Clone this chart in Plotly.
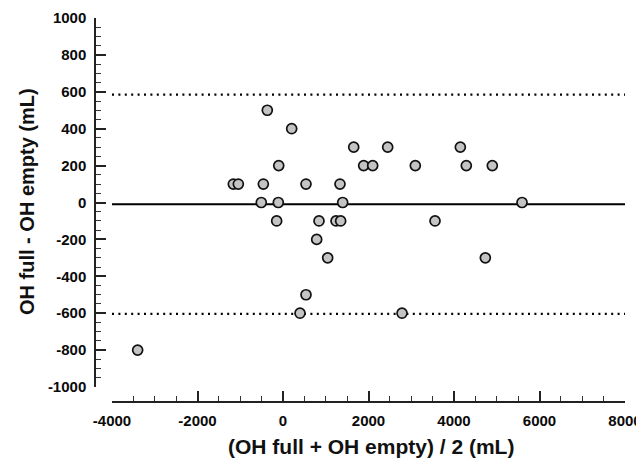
import plotly.graph_objects as go

# Bland-Altman points: mean of the two measurements vs. their difference (mL)
mean_vals = [-1162, -1045, -460, 538, 1333,
             -367, 203, -100,
             1654, 2449, 4148,
             1887, 2098, 3095, 4288, 4896,
             -508, -110, 1396, 5591,
             -148, 842, 1240, 1349, 3556,
             788, 1045, 4733, 538, 398, 2784, -3400]
diff_vals = [100, 100, 100, 100, 100,
             500, 400, 200,
             300, 300, 300,
             200, 200, 200, 200, 200,
             0, 0, 0, 0,
             -100, -100, -100, -100, -100,
             -200, -300, -300, -500, -600, -600, -800]

bias = -9.4
upper_loa = 585
lower_loa = -604
line_x = [-4000, 8000]

x_ticks = [-4000, -2000, 0, 2000, 4000, 6000, 8000]
x_tick_labels = ["-4000", "-2000", "0", "2000", "4000", "6000", "8000"]
y_ticks = [-1000, -800, -600, -400, -200, 0, 200, 400, 600, 800, 1000]
y_tick_labels = ["-1000", "-800", "-600", "-400", "-200", "0", "200", "400", "600", "800", "1000"]

font = "Liberation Sans, Arial, sans-serif"

# the page body adds an 8px margin, so the figure is a bit smaller than the window
W, H, OFF = 636, 458, 8


def px(sx):
    return (sx - OFF) / W


def py(sy):
    return 1 - (sy - OFF) / H


fig = go.Figure()

fig.add_trace(go.Scatter(x=line_x, y=[bias, bias], mode="lines",
                         line=dict(color="black", width=2)))
for v in [upper_loa, lower_loa]:
    fig.add_trace(go.Scatter(x=line_x, y=[v, v], mode="lines",
                             line=dict(color="black", width=2.2, dash="2px,4.4px")))

fig.add_trace(go.Scatter(x=mean_vals, y=diff_vals, mode="markers",
                         marker=dict(size=10, color="#c4c4c4",
                                     line=dict(color="#111111", width=1.7))))

fig.update_xaxes(range=[-4000, 8000], domain=[px(112), px(625)],
                 anchor="free", position=py(402), automargin=False,
                 showgrid=False, zeroline=False, showline=True,
                 linecolor="#222222", linewidth=1.5,
                 ticks="inside", ticklen=10, tickwidth=1.5, tickcolor="#222222",
                 tickvals=x_ticks, ticktext=x_tick_labels, ticklabelstandoff=5,
                 minor=dict(dtick=500, tick0=0, ticks="inside", ticklen=5,
                            tickwidth=1.2, tickcolor="#333333"),
                 tickfont=dict(family=font, size=15, color="#0a0a0a", weight="bold"))
fig.update_yaxes(range=[-1000, 1000], domain=[py(387), py(18)],
                 anchor="free", position=px(95), automargin=False,
                 showgrid=False, zeroline=False, showline=True,
                 linecolor="#222222", linewidth=1.5,
                 ticks="inside", ticklen=10, tickwidth=1.5, tickcolor="#222222",
                 tickvals=y_ticks, ticktext=y_tick_labels, ticklabelstandoff=5,
                 minor=dict(dtick=50, tick0=0, ticks="inside", ticklen=5,
                            tickwidth=1.2, tickcolor="#333333"),
                 tickfont=dict(family=font, size=15, color="#0a0a0a", weight="bold"))

fig.add_annotation(text="(OH full + OH empty) / 2 (mL)", xref="paper", yref="paper",
                   x=px(371), y=py(446), xanchor="center", yanchor="middle", showarrow=False,
                   font=dict(family=font, size=21, color="#111111", weight="bold"))
fig.add_annotation(text="OH full - OH empty (mL)", xref="paper", yref="paper",
                   x=px(27), y=py(202), xanchor="center", yanchor="middle",
                   showarrow=False, textangle=-90,
                   font=dict(family=font, size=20, color="#111111", weight="bold"))

fig.update_layout(width=W, height=H, showlegend=False,
                  margin=dict(l=0, r=0, t=0, b=0),
                  plot_bgcolor="white", paper_bgcolor="white")

fig.write_html("out.html")
